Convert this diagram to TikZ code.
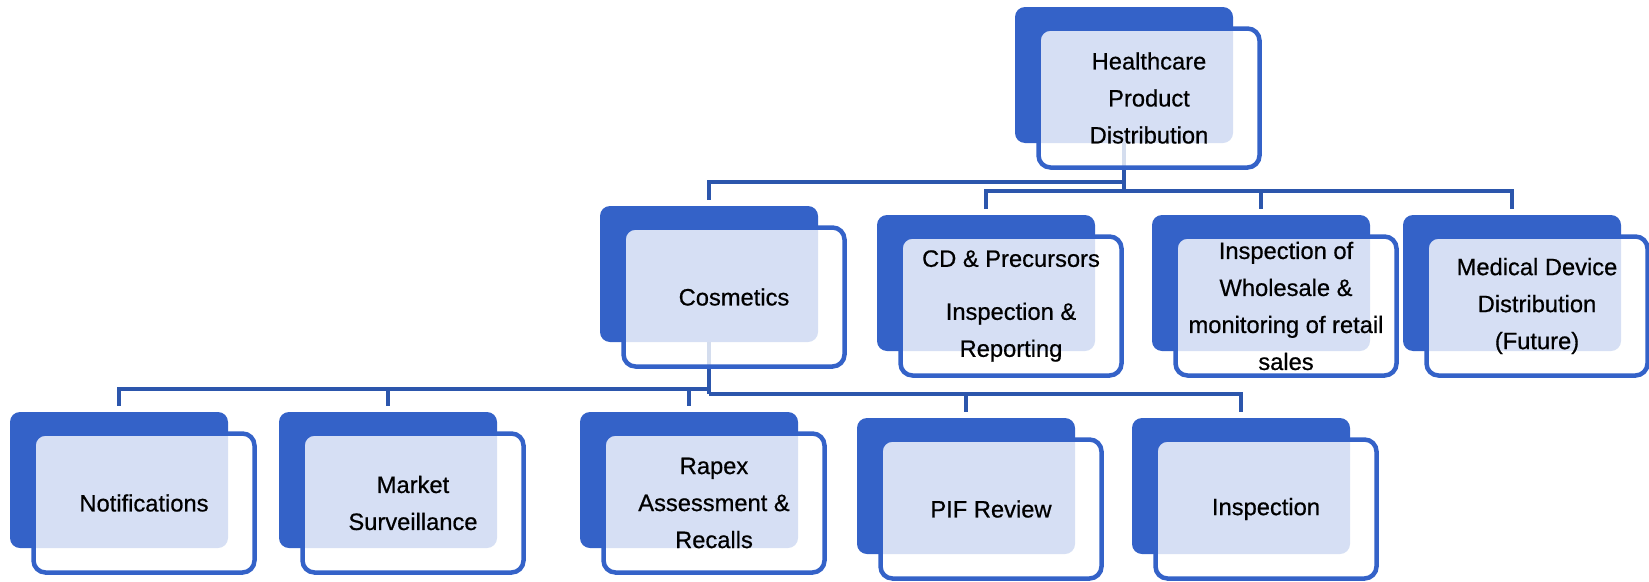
\documentclass[tikz,border=0pt]{standalone}
\usepackage{fontspec}
\setmainfont{Liberation Sans}
\newfontfamily\cardfont[FakeBold=0.6]{Liberation Sans}
\definecolor{cardblue}{RGB}{52,98,200}
\definecolor{connblue}{RGB}{44,86,172}
\tikzset{
  backbox/.style={fill=cardblue, draw=none, rounded corners=10pt,
    minimum width=218pt, minimum height=136pt, inner sep=0pt, outer sep=0pt},
  frontbox/.style={fill=white, fill opacity=0.8, text opacity=1, draw=cardblue,
    draw opacity=1, line width=4.5pt, rounded corners=12pt,
    minimum width=221pt, minimum height=139pt, inner sep=0pt, align=center,
    font=\cardfont\fontsize{23.7}{37}\selectfont},
  conn/.style={draw=connblue, line width=4.5pt},
}
\begin{document}
\begin{tikzpicture}[x=1pt,y=-1pt]
\useasboundingbox (0,0) rectangle (1649,581);
\coordinate (yA) at (0,182);
\coordinate (yB) at (0,191);
\coordinate (yC) at (0,389);
\coordinate (yD) at (0,394);
% back boxes
\node[backbox] (hpd) at (1124,75) {};
\node[backbox] (cos) at (709,274) {};
\node[backbox] (cd) at (986,283) {};
\node[backbox] (whs) at (1261,283) {};
\node[backbox] (med) at (1512,283) {};
\node[backbox] (notif) at (119,480) {};
\node[backbox] (mkt) at (388,480) {};
\node[backbox] (rap) at (689,480) {};
\node[backbox] (pif) at (966,486) {};
\node[backbox] (insp) at (1241,486) {};
% connectors
\draw[conn] (hpd.south) -- (hpd.south |- yB);
\draw[conn, shorten >=6pt] (hpd.south |- yA) -- (cos.north |- yA) -- (cos.north);
\draw[conn, shorten <=6pt, shorten >=6pt] (cd.north) -- (cd.north |- yB) -- (med.north |- yB) -- (med.north);
\draw[conn, shorten >=6pt] (whs.north |- yB) -- (whs.north);
\draw[conn] (cos.south) -- (cos.south |- yD);
\draw[conn, shorten >=6pt] (cos.south |- yC) -- (notif.north |- yC) -- (notif.north);
\draw[conn, shorten >=6pt] (mkt.north |- yC) -- (mkt.north);
\draw[conn, shorten >=6pt] (rap.north |- yC) -- (rap.north);
\draw[conn, shorten >=6pt] (cos.south |- yD) -- (insp.north |- yD) -- (insp.north);
\draw[conn, shorten >=6pt] (pif.north |- yD) -- (pif.north);
% front cards
\node[frontbox] (hpd-f) at ([xshift=25pt,yshift=-23pt]hpd.center) {Healthcare\\Product\\Distribution};
\node[frontbox] (cos-f) at ([xshift=25pt,yshift=-23pt]cos.center) {Cosmetics};
\node[frontbox] (cd-f) at ([xshift=25pt,yshift=-23pt]cd.center) {CD \& Precursors\\[16pt]Inspection \&\\Reporting};
\node[frontbox] (whs-f) at ([xshift=25pt,yshift=-23pt]whs.center) {Inspection of\\Wholesale \&\\monitoring of retail\\sales};
\node[frontbox] (med-f) at ([xshift=25pt,yshift=-23pt]med.center) {Medical Device\\Distribution\\(Future)};
\node[frontbox] (notif-f) at ([xshift=25pt,yshift=-23pt]notif.center) {Notifications};
\node[frontbox] (mkt-f) at ([xshift=25pt,yshift=-23pt]mkt.center) {Market\\Surveillance};
\node[frontbox] (rap-f) at ([xshift=25pt,yshift=-23pt]rap.center) {Rapex\\Assessment \&\\Recalls};
\node[frontbox] (pif-f) at ([xshift=25pt,yshift=-23pt]pif.center) {PIF Review};
\node[frontbox] (insp-f) at ([xshift=25pt,yshift=-23pt]insp.center) {Inspection};
\end{tikzpicture}
\end{document}
